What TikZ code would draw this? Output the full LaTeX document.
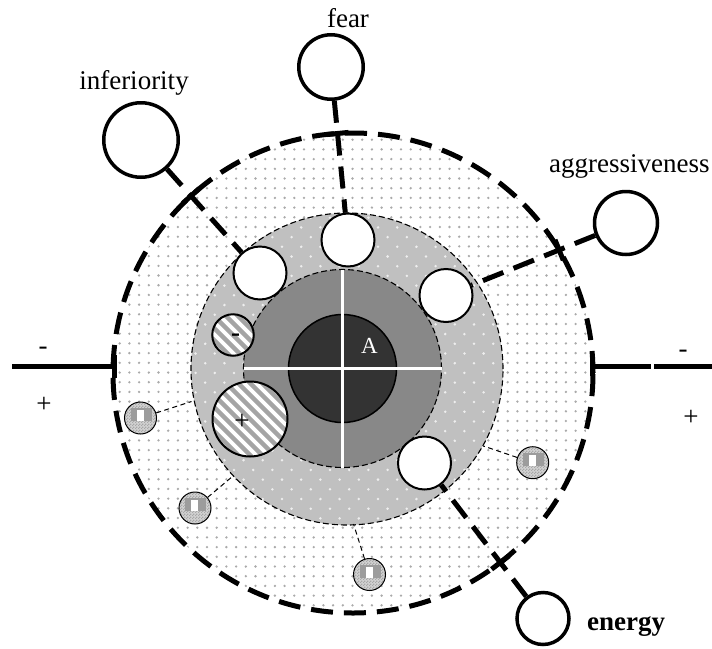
\documentclass[tikz,border=0pt]{standalone}
\usepackage{fontspec}
\setmainfont{Liberation Serif}
\usetikzlibrary{calc,intersections,patterns}
\pgfdeclarelayer{bg}
\pgfdeclarelayer{conn}
\pgfsetlayers{bg,conn,main}
\definecolor{dotgray}{HTML}{AAAAAA}
\definecolor{ringgray}{HTML}{C0C0C0}
\definecolor{ringdot}{HTML}{EEEEEE}
\definecolor{midgray}{HTML}{888888}
\definecolor{coregray}{HTML}{333333}
\definecolor{stripegray}{HTML}{A4A4A4}
\definecolor{checkbase}{HTML}{D2D2D2}
\definecolor{checkdot}{HTML}{A8A8A8}
\definecolor{checkdark}{HTML}{9C9C9C}
\pgfdeclarepatternformonly{finecheck}{\pgfpointorigin}{\pgfqpoint{3pt}{3pt}}{\pgfqpoint{3pt}{3pt}}{\pgfpathrectangle{\pgfpointorigin}{\pgfqpoint{1.5pt}{1.5pt}}\pgfpathrectangle{\pgfqpoint{1.5pt}{1.5pt}}{\pgfqpoint{1.5pt}{1.5pt}}\pgfusepath{fill}}
\begin{document}
\begin{tikzpicture}[x=1pt,y=-1pt,
  thickdash/.style={line width=5pt, dash pattern=on 22pt off 11pt},
  thindash/.style={line width=1.1pt, dash pattern=on 6pt off 3pt},
  finedash/.style={line width=1pt, dash pattern=on 5pt off 3.5pt},
  tickline/.style={line width=5pt},
  barline/.style={line width=5pt},
  whitecirc/.style={circle, draw, line width=2pt, fill=white, inner sep=0pt, minimum size=53pt},
  labelcirc/.style={circle, draw, line width=3.5pt, fill=white, inner sep=0pt},
  hatchcirc/.style={circle, draw, line width=2pt, fill=white, inner sep=0pt,
    path picture={\foreach \k in {-7,...,7}
      \draw[stripegray, line width=4.3pt] ($(path picture bounding box.center)+(\k*12-60,-60)$) -- ++(120,120);}},
  checkcirc/.style={circle, draw, line width=1pt, fill=checkbase, inner sep=0pt, minimum size=32pt,
    path picture={
      \fill[pattern=finecheck, pattern color=checkdot] (path picture bounding box.south west) rectangle (path picture bounding box.north east);
      \fill[checkdark] ($(path picture bounding box.center)+(-10,-10)$) rectangle ($(path picture bounding box.center)+(11,3)$);
      \fill[white] ($(path picture bounding box.center)+(-4,-8)$) rectangle ($(path picture bounding box.center)+(3,3)$);}},
  lbl/.style={font=\fontsize{27}{30}\selectfont, inner sep=0pt},
  sign/.style={font=\fontsize{27}{30}\selectfont, inner sep=0pt, anchor=base}
]
\useasboundingbox (0,0) rectangle (712,648);
\begin{pgfonlayer}{bg}
  \fill[white] (0,0) rectangle (712,648);
  \begin{scope}
    \clip (353,373) circle[radius=240pt];
    \foreach \i in {0,...,50} \foreach \j in {0,...,50}
      \fill[dotgray] (110+\i*9.7,130+\j*9.7) circle[radius=1.3pt];
  \end{scope}
  \fill[ringgray] (347,369) circle[radius=156pt];
  \begin{scope}
    \clip (347,369) circle[radius=156pt];
    \foreach \j [evaluate=\j as \off using {mod(\j,2)*9.6}] in {0,...,33}
      \foreach \i in {0,...,17}
        \fill[ringdot] (186+\off+\i*19.2,208+\j*9.7) circle[radius=1.4pt];
  \end{scope}
  \draw[thindash] (347,369) circle[radius=156pt];
  \draw[thindash, fill=midgray] (342.5,368.5) circle[radius=99pt];
  \draw[line width=1.5pt, fill=coregray] (342.5,368.5) circle[radius=54pt];
  \draw[white, line width=3pt] (342.5,269.5) -- (342.5,467.5) (243.5,368.5) -- (441.5,368.5);
\end{pgfonlayer}

% inner white circles
\node[whitecirc] (fin) at (348,240) {};
\node[whitecirc] (iin) at (260,273) {};
\node[whitecirc] (ain) at (446,295.5) {};
\node[whitecirc] (ein) at (424.5,463) {};
% outer label circles
\node[labelcirc, minimum size=74.5pt] (iout) at (141,140) {};
\node[labelcirc, minimum size=64.5pt] (fout) at (331,67) {};
\node[labelcirc, minimum size=63pt] (aout) at (626,223) {};
\node[labelcirc, minimum size=52pt] (eout) at (543,618.5) {};
% hatched circles
\node[hatchcirc, minimum size=41.5pt] (hminus) at (233,335) {};
\node[hatchcirc, minimum size=75pt] (hplus) at (250,419) {};
\node[sign, font=\bfseries\fontsize{27}{30}\selectfont] (tminus) at (235.5,341) {-};
\node[sign] (tplus) at (242,429) {+};
% checker circles
\node[checkcirc] (c1) at (140.5,418) {};
\node[checkcirc] (c2) at (195,508) {};
\node[checkcirc] (c3) at (369.5,574.5) {};
\node[checkcirc] (c4) at (532.7,462.7) {};
\coordinate (g1) at (191.5,401.5);
\coordinate (g2) at (233,476);
\coordinate (g3) at (353.5,524);
\coordinate (g4) at (483.3,446);

\begin{pgfonlayer}{conn}
  \draw[finedash] (c1) -- (g1);
  \draw[finedash] (c2) -- (g2);
  \draw[finedash] (c3) -- (g3);
  \draw[finedash] (c4) -- (g4);
  \draw[thickdash, name path=ring] (353,373) circle[radius=240pt];
  \draw[thickdash, name path=cinf] (iout) -- (iin);
  \draw[thickdash, name path=cfear] (fout) -- (fin);
  \draw[thickdash, name path=cagg] (aout) -- (ain);
  \draw[thickdash, name path=cene] (eout) -- (ein);
  \path[name intersections={of=ring and cinf, by=tinf}];
  \path[name intersections={of=ring and cfear, by=tfear}];
  \path[name intersections={of=ring and cagg, by=tagg}];
  \path[name intersections={of=ring and cene, by=tene}];
  \draw[tickline] ($(tinf)!11pt!90:(iout)$) -- ($(tinf)!11pt!-90:(iout)$);
  \draw[tickline] ($(tfear)!11pt!90:(fout)$) -- ($(tfear)!11pt!-90:(fout)$);
  \draw[tickline] ($(tagg)!11pt!90:(aout)$) -- ($(tagg)!11pt!-90:(aout)$);
  \draw[tickline] ($(tene)!11pt!90:(eout)$) -- ($(tene)!11pt!-90:(eout)$);
  % side bars
  \coordinate (lbA) at (12,366);
  \coordinate (lbB) at (114,366);
  \coordinate (lbT) at (114,355);
  \coordinate (lbU) at (114,378);
  \draw[barline] (lbA) -- (lbB);
  \draw[tickline] (lbT) -- (lbU);
  \coordinate (rbA) at (592,366);
  \coordinate (rbM) at (651,366);
  \coordinate (rbN) at (654,366);
  \coordinate (rbB) at (712,366);
  \coordinate (rbT) at (592,354);
  \coordinate (rbU) at (592,376);
  \draw[barline] (rbA) -- (rbM) (rbN) -- (rbB);
  \draw[tickline] (rbT) -- (rbU);
\end{pgfonlayer}

% labels
\node[lbl, anchor=base] (linf) at (134,89) {inferiority};
\node[lbl, anchor=base] (lfear) at (348,27) {fear};
\node[lbl, anchor=base west] (lagg) at (549,172) {aggressiveness};
\node[lbl, anchor=base west, font=\bfseries\fontsize{27}{30}\selectfont] (lene) at (587,630) {energy};
\node[sign, font=\fontsize{23}{26}\selectfont, text=white] (la) at (369.5,353.5) {A};
\node[sign] (lm) at (43,354) {-};
\node[sign] (lp) at (44,412) {+};
\node[sign] (rm) at (683,357) {-};
\node[sign] (rp) at (691,425) {+};
\end{tikzpicture}
\end{document}
